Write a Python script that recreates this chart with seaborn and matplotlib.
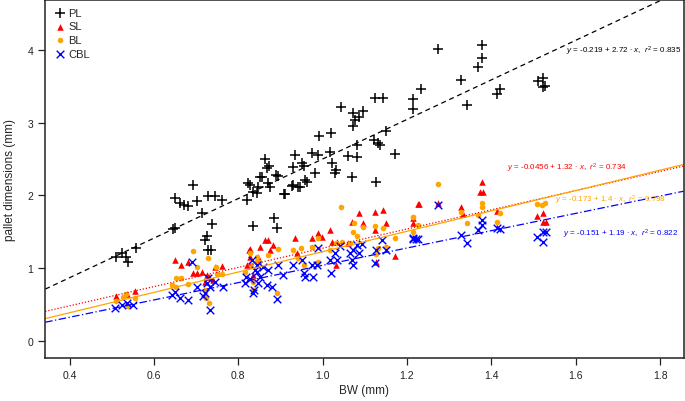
import matplotlib
matplotlib.use('Agg')
import matplotlib.pyplot as plt
import numpy as np
import pandas as pd
import seaborn as sns

# ---- data ----
pl_bw = [0.510, 0.525, 0.534, 0.539, 0.557, 0.645, 0.650, 0.693, 0.650, 0.662,
         0.671, 0.681, 0.702, 0.728, 0.745, 0.762, 0.714, 0.738, 0.726, 0.722,
         0.727, 0.735, 0.835, 0.823, 0.835, 0.845, 0.821, 0.864, 0.872, 0.869,
         0.935, 0.951, 0.955, 0.975, 0.990, 1.018, 1.022, 1.032, 1.030, 1.061,
         1.082, 1.172, 1.070, 1.127, 0.930, 0.982, 0.958, 0.963, 0.930, 0.942,
         0.911, 0.828, 0.851, 0.871, 0.876, 0.890, 0.895, 0.885, 0.892, 1.274,
         1.378, 1.378, 1.369, 1.327, 1.232, 1.421, 1.414, 1.511, 1.523, 1.528,
         1.523, 1.343, 1.215, 1.215, 1.125, 1.144, 1.044, 1.073, 1.085, 1.077,
         1.096, 1.073, 0.992, 1.020, 1.151, 1.122, 1.132, 1.137, 1.082, 0.908,
         0.928, 0.947, 0.847, 0.856]
pl_val = [1.15, 1.21, 1.15, 1.09, 1.28, 1.54, 1.55, 2.14, 1.96, 1.90,
          1.87, 1.85, 1.92, 1.99, 1.99, 1.94, 1.76, 1.61, 1.44, 1.39,
          1.25, 1.25, 1.58, 2.17, 2.05, 2.03, 1.94, 2.50, 2.40, 2.38,
          2.55, 2.45, 2.40, 2.58, 2.55, 2.60, 2.45, 2.35, 2.31, 2.54,
          2.53, 2.57, 2.25, 2.18, 2.39, 2.31, 2.21, 2.18, 2.14, 2.11,
          2.02, 2.14, 2.25, 2.17, 2.11, 2.28, 2.27, 1.69, 1.55, 4.01,
          4.07, 3.89, 3.76, 3.59, 3.46, 3.47, 3.39, 3.57, 3.61, 3.50,
          3.49, 3.24, 3.32, 3.19, 3.34, 3.34, 3.21, 3.13, 3.08, 3.04,
          3.16, 2.95, 2.82, 2.86, 2.88, 2.76, 2.72, 2.69, 2.69, 2.02,
          2.13, 2.12, 2.11, 2.25]

sl_bw = [0.510, 0.536, 0.555, 0.650, 0.664, 0.681, 0.693, 0.702, 0.714, 0.726,
         0.722, 0.731, 0.740, 0.745, 0.762, 0.821, 0.826, 0.828, 0.835, 0.847,
         0.828, 0.851, 0.864, 0.871, 0.876, 0.883, 0.935, 0.940, 0.975, 0.990,
         0.999, 1.018, 1.022, 1.032, 1.035, 1.061, 1.070, 1.085, 1.096, 1.125,
         1.125, 1.144, 1.151, 1.172, 1.215, 1.227, 1.127, 1.229, 1.215, 1.274,
         1.327, 1.333, 1.378, 1.373, 1.380, 1.414, 1.509, 1.523, 1.523, 1.530]
sl_val = [0.62, 0.65, 0.69, 1.11, 1.04, 1.09, 0.93, 0.93, 0.95, 0.91,
          0.81, 0.88, 0.84, 1.02, 1.03, 1.04, 1.25, 1.15, 0.91, 1.15,
          1.26, 1.29, 1.39, 1.39, 1.25, 1.32, 1.41, 1.21, 1.41, 1.48,
          1.43, 1.52, 1.36, 1.04, 1.36, 1.35, 1.63, 1.76, 1.62, 1.77,
          1.52, 1.80, 1.62, 1.17, 1.62, 1.88, 1.09, 1.88, 1.69, 1.90,
          1.84, 1.74, 2.18, 2.05, 2.05, 1.79, 1.72, 1.76, 1.63, 1.63]

bl_bw = [0.510, 0.527, 0.534, 0.539, 0.555, 0.643, 0.653, 0.664, 0.653, 0.681,
         0.693, 0.702, 0.728, 0.722, 0.722, 0.731, 0.724, 0.750, 0.748, 0.762,
         0.816, 0.830, 0.835, 0.845, 0.835, 1.044, 0.828, 0.845, 0.850, 0.871,
         0.894, 0.892, 0.930, 0.942, 0.949, 0.956, 0.975, 0.990, 0.990, 1.018,
         1.032, 1.046, 1.065, 1.072, 1.075, 1.096, 1.082, 1.125, 1.127, 1.132,
         1.144, 1.151, 1.172, 1.215, 1.215, 1.227, 1.215, 1.274, 1.327, 1.343,
         1.378, 1.378, 1.369, 1.421, 1.414, 1.509, 1.521, 1.528]
bl_val = [0.55, 0.60, 0.65, 0.48, 0.59, 0.77, 0.87, 0.87, 0.74, 0.78,
          1.24, 1.02, 1.14, 0.70, 0.60, 0.52, 0.59, 0.92, 1.02, 0.92,
          0.95, 1.04, 0.81, 1.09, 0.70, 1.84, 1.21, 1.15, 1.09, 1.18,
          1.26, 0.66, 1.25, 1.14, 1.28, 1.04, 1.29, 1.41, 1.09, 1.25,
          1.35, 1.36, 1.35, 1.50, 1.62, 1.57, 1.44, 1.58, 1.20, 1.28,
          1.55, 1.29, 1.41, 1.70, 1.50, 1.59, 1.70, 2.16, 1.77, 1.62,
          1.90, 1.84, 1.73, 1.76, 1.63, 1.88, 1.87, 1.90]

cbl_bw = [0.508, 0.525, 0.536, 0.551, 0.643, 0.650, 0.662, 0.681, 0.690, 0.702,
          0.728, 0.726, 0.733, 0.722, 0.717, 0.733, 0.745, 0.764, 0.816, 0.819,
          0.828, 0.835, 0.840, 0.845, 0.833, 0.845, 0.851, 0.858, 0.871, 0.847,
          0.868, 0.880, 0.892, 0.838, 0.894, 0.906, 0.930, 0.951, 0.955, 0.958,
          0.978, 0.975, 0.987, 0.990, 1.018, 1.020, 1.030, 1.035, 1.042, 1.065,
          1.070, 1.072, 1.082, 1.094, 1.085, 1.072, 1.127, 1.125, 1.141, 1.149,
          1.215, 1.222, 1.215, 1.227, 1.274, 1.327, 1.343, 1.369, 1.378, 1.378,
          1.414, 1.421, 1.509, 1.523, 1.530, 1.523]
cbl_val = [0.45, 0.49, 0.52, 0.49, 0.63, 0.67, 0.59, 0.56, 1.09, 0.74,
           0.87, 0.80, 0.74, 0.66, 0.62, 0.43, 0.81, 0.74, 0.80, 0.88,
           0.85, 0.66, 0.98, 1.04, 1.11, 0.95, 0.88, 1.02, 0.98, 0.80,
           0.77, 0.74, 0.58, 0.70, 1.04, 0.91, 1.04, 1.11, 0.93, 0.88,
           0.88, 1.04, 1.04, 1.28, 1.11, 0.93, 1.21, 1.11, 1.30, 1.21,
           1.11, 1.25, 1.32, 1.33, 1.21, 1.04, 1.25, 1.07, 1.39, 1.25,
           1.40, 1.40, 1.41, 1.40, 1.87, 1.46, 1.35, 1.52, 1.66, 1.59,
           1.55, 1.54, 1.43, 1.50, 1.50, 1.36]

# fitted lines: intercept, slope, r2
fit_names = ['PL', 'SL', 'BL', 'CBL']
fit_a = [-0.219, -0.0456, -0.173, -0.151]
fit_b = [2.72, 1.32, 1.4, 1.19]
fit_r2 = [0.835, 0.734, 0.798, 0.822]

# ---- plotting ----
sns.set_style('ticks')
plt.rcParams['font.family'] = ['Liberation Sans', 'DejaVu Sans']
plt.rcParams['mathtext.fontset'] = 'custom'
plt.rcParams['mathtext.rm'] = 'Liberation Sans'
plt.rcParams['mathtext.it'] = 'Liberation Sans:italic'

colors = {'PL': 'black', 'SL': 'red', 'BL': 'orange', 'CBL': 'blue'}
styles = {'PL': (0, (4, 3)), 'SL': (0, (1, 1.5)), 'BL': '-', 'CBL': (0, (6, 2, 1, 2))}

fig = plt.figure(figsize=(6.85, 4.02), dpi=100)
ax = fig.add_axes([0.066, 0.108, 0.932, 0.89])

sns.scatterplot(x=pl_bw, y=pl_val, marker='+', color='black', s=60,
                linewidth=1.1, ax=ax, label='PL')
sns.scatterplot(x=sl_bw, y=sl_val, marker='^', color='red', s=22,
                linewidth=0, ax=ax, label='SL')
sns.scatterplot(x=bl_bw, y=bl_val, marker='o', color='orange', s=16,
                linewidth=0, ax=ax, label='BL')
sns.scatterplot(x=cbl_bw, y=cbl_val, marker='x', color='blue', s=30,
                linewidth=1.0, ax=ax, label='CBL')

for name, a, b in zip(fit_names, fit_a, fit_b):
    ax.axline((0, a), slope=b, color=colors[name], linestyle=styles[name], lw=0.9)

ax.set_xlim(0.342, 1.856)
ax.set_ylim(-0.23, 4.69)
ax.set_xticks([0.4, 0.6, 0.8, 1.0, 1.2, 1.4, 1.6, 1.8])
ax.set_yticks([0, 1, 2, 3, 4])
ax.tick_params(labelsize=7.5, length=5, width=0.9, direction='out', colors='#222222')
ax.tick_params(axis='x', pad=4)
for sp in ax.spines.values():
    sp.set_visible(True)
    sp.set_linewidth(1.1)
    sp.set_color('#222222')
ax.set_xlabel('BW (mm)', fontsize=8.5, labelpad=3)
ax.set_ylabel('pallet dimensions (mm)', fontsize=8.5, labelpad=8)

# equation labels
eq_pos = {'PL': (1.576, 4.0, 'left'), 'SL': (1.438, 2.39, 'left'),
          'BL': (1.552, 1.95, 'left'), 'CBL': (1.571, 1.48, 'left')}
for name, a, b, r2 in zip(fit_names, fit_a, fit_b, fit_r2):
    x, y, ha = eq_pos[name]
    sign = '-' if a < 0 else '+'
    txt = r'$y$ = %s%g + %g $\cdot$ $x$,  $r^2$ = %g' % (sign, abs(a), b, r2)
    ax.text(x, y, txt, color=colors[name], fontsize=5.8, ha=ha, va='center')

leg = ax.legend(loc='upper left', frameon=False, fontsize=8, handletextpad=0.2,
                borderaxespad=0.3, labelspacing=0.35, handlelength=1.2)

fig.savefig('out.png', dpi=100)
